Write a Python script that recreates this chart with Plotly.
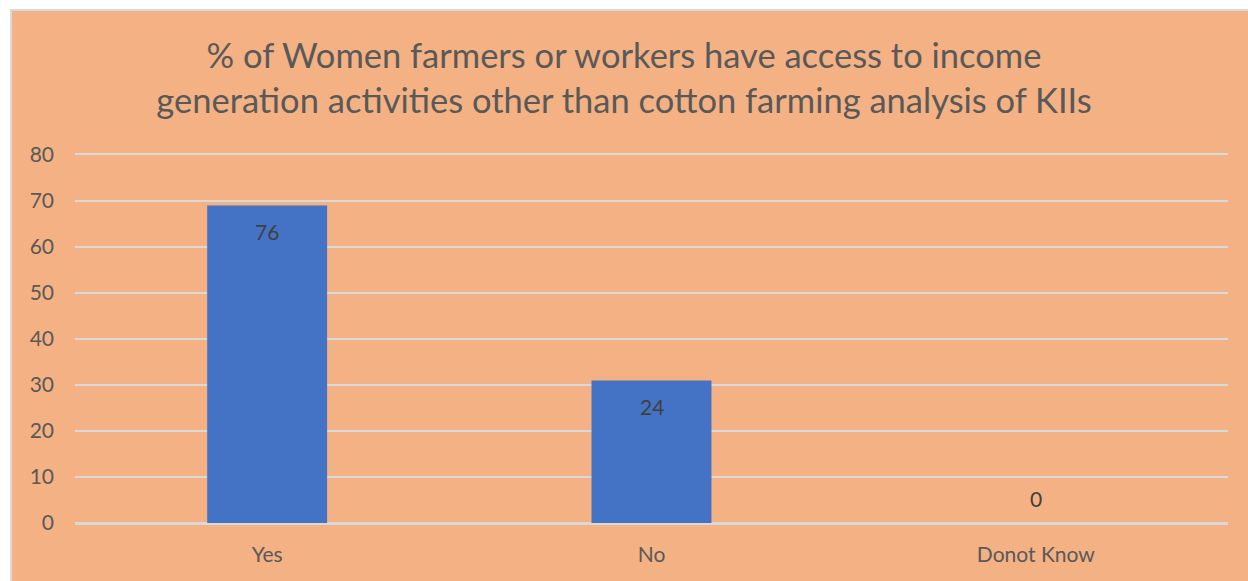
import plotly.graph_objects as go

categories = ["Yes", "No", "Donot Know"]
bar_values = [69, 31, 0]
label_texts = ["76", "24", "0"]
y_ticks = [0, 10, 20, 30, 40, 50, 60, 70, 80]

W, H = 1248, 581
L, R, T, B = 75, 20, 155, 58
pw, ph = W - L - R, H - T - B

FONT = "Lato"
PEACH = "#F4B183"
GRID = "#D9D9D9"
TXT = "#595959"

fig = go.Figure()
fig.add_trace(go.Bar(
    x=categories, y=bar_values,
    marker=dict(color="#4472C4", line=dict(width=0)),
    width=0.312, hoverinfo="skip",
))

for c, v, t in zip(categories, bar_values, label_texts):
    fig.add_annotation(x=c, y=v, text=t, showarrow=False,
                       yshift=-26 if v > 0 else 25,
                       font=dict(family=FONT, size=21, color="#404040"))

# chart-area background with light border
fig.add_shape(type="rect", xref="paper", yref="paper", layer="below",
              x0=(11 - L) / pw, x1=(W + 5 - L) / pw,
              y0=-(H + 5 - (T + ph)) / ph, y1=(T + ph - 10) / ph,
              fillcolor=PEACH, line=dict(color=GRID, width=2))

fig.update_layout(
    width=W, height=H,
    margin=dict(l=L, r=R, t=T, b=B),
    paper_bgcolor="white", plot_bgcolor="rgba(0,0,0,0)",
    showlegend=False,
    title=dict(text="% of Women farmers or workers have access to income<br>generation activities other than cotton farming analysis of KIIs",
               x=0.5, xanchor="center", y=1 - 68 / H, yanchor="middle",
               font=dict(family=FONT, size=34.5, color=TXT)),
    xaxis=dict(showgrid=False, showline=True, mirror=True, linecolor=GRID,
               linewidth=1.5, zeroline=False, ticks="",
               tickfont=dict(family=FONT, size=21, color=TXT),
               ticklabelstandoff=12),
    yaxis=dict(range=[0, 80], tickvals=y_ticks, showgrid=True, gridcolor=GRID,
               gridwidth=1.5, zeroline=True, zerolinecolor=GRID, zerolinewidth=1.5,
               showline=False, ticks="",
               tickfont=dict(family=FONT, size=21, color=TXT),
               ticklabelstandoff=20),
)

fig.write_html("out.html", config={"displayModeBar": False},
               post_script="document.body.style.margin='0';")
